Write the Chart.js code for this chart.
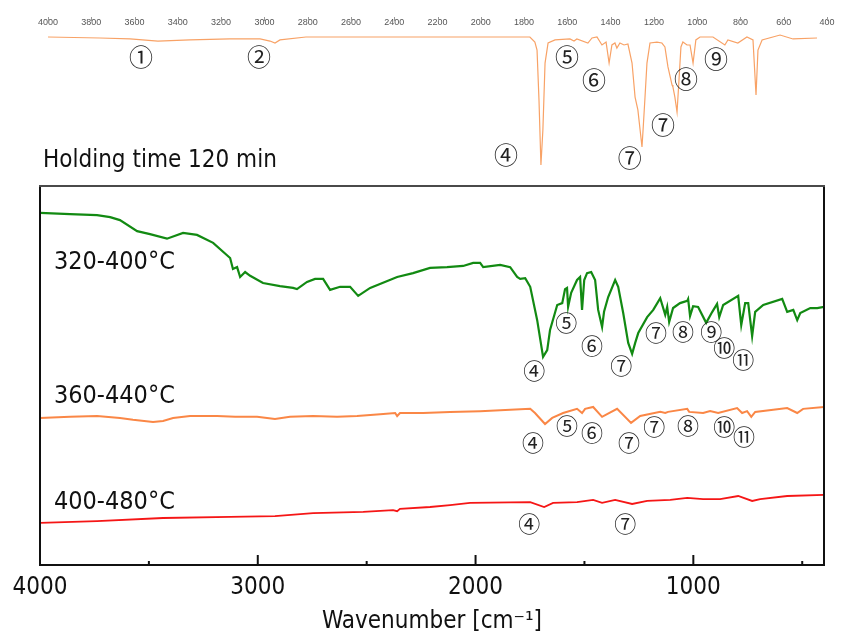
<!DOCTYPE html>
<html lang="en">
<head>
<meta charset="UTF-8">
<title>FT-IR spectra, holding time 120 min</title>
<script src="https://cdn.jsdelivr.net/npm/chart.js"></script>
<style>
  body { margin: 0; background: #fff; }
  #wrap { position: relative; width: 846px; height: 637px; }
  canvas { position: absolute; left: 0; }
  #refChart { top: 0; }
  #mainChart { top: 180px; }
</style>
</head>
<body>
<div id="wrap">
  <canvas id="refChart" width="846" height="180"></canvas>
  <canvas id="mainChart" width="846" height="457"></canvas>
</div>
<script>
// tick values
const refTicks = [4000, 3800, 3600, 3400, 3200, 3000, 2800, 2600, 2400, 2200, 2000, 1800, 1600, 1400, 1200, 1000, 800, 600, 400];
const mainTicks = [4000, 3500, 3000, 2500, 2000, 1500, 1000, 500];
const mainTickLabels = ['4000', '', '3000', '', '2000', '', '1000', ''];

// reference spectrum (top strip), transmittance in arbitrary %
const refWavenumber = [4000, 3760, 3621, 3492, 3344, 3159, 3020, 2974, 2951, 2928, 2808, 2373, 2004, 1773, 1750, 1740, 1731, 1722, 1713, 1703, 1689, 1657, 1588, 1569, 1556, 1505, 1486, 1463, 1440, 1421, 1407, 1394, 1380, 1371, 1357, 1338, 1320, 1301, 1287, 1274, 1255, 1250, 1241, 1232, 1218, 1186, 1163, 1149, 1135, 1116, 1112, 1103, 1093, 1084, 1075, 1066, 1047, 1033, 1019, 1006, 987, 927, 872, 858, 812, 770, 742, 728, 719, 700, 617, 557, 446];
const refTransmittance = [95.0, 94.3, 93.6, 92.1, 92.9, 93.6, 93.6, 92.1, 90.7, 92.9, 95.0, 95.0, 95.0, 95.0, 91.4, 85.7, 50.0, 3.6, 28.6, 76.4, 90.7, 92.9, 93.6, 92.1, 93.6, 90.7, 94.3, 95.0, 89.3, 91.4, 76.4, 89.3, 90.7, 87.1, 90.7, 89.3, 90.0, 76.4, 52.1, 42.9, 16.4, 28.6, 52.1, 76.4, 90.7, 91.4, 90.7, 87.9, 73.6, 60.7, 59.3, 52.1, 41.4, 64.3, 87.9, 91.4, 89.3, 89.3, 76.4, 92.9, 95.0, 95.0, 89.3, 92.9, 90.7, 95.0, 92.9, 53.6, 85.7, 92.9, 96.4, 93.6, 94.3];

// 320-400 °C
const wavenumber320 = [4000, 3862, 3738, 3678, 3633, 3554, 3495, 3417, 3343, 3279, 3205, 3127, 3114, 3095, 3081, 3058, 3035, 2976, 2898, 2838, 2820, 2774, 2737, 2700, 2668, 2622, 2576, 2539, 2484, 2360, 2287, 2209, 2131, 2057, 2011, 1979, 1965, 1887, 1841, 1809, 1795, 1772, 1749, 1717, 1690, 1671, 1658, 1625, 1602, 1589, 1580, 1575, 1561, 1534, 1520, 1511, 1501, 1488, 1469, 1451, 1437, 1419, 1410, 1391, 1359, 1345, 1322, 1299, 1281, 1267, 1253, 1212, 1184, 1152, 1129, 1120, 1111, 1093, 1061, 1028, 1024, 1015, 1001, 978, 941, 913, 891, 881, 863, 794, 780, 762, 748, 730, 716, 679, 592, 569, 541, 523, 509, 463, 431, 400];
const signal320 = [92.9, 92.6, 92.3, 91.8, 91.0, 88.1, 87.3, 86.1, 87.6, 87.1, 85.0, 81.0, 78.1, 78.6, 76.0, 77.3, 76.3, 74.4, 73.6, 73.1, 72.8, 74.7, 75.5, 75.5, 72.6, 73.4, 73.4, 71.0, 73.1, 76.0, 77.0, 78.4, 78.6, 78.9, 79.7, 79.7, 78.6, 79.2, 78.6, 76.0, 75.5, 75.7, 73.4, 64.6, 54.9, 56.7, 62.0, 68.6, 69.1, 72.8, 73.1, 68.1, 71.8, 75.2, 76.0, 67.3, 75.2, 77.0, 77.3, 75.2, 67.3, 62.8, 66.8, 70.7, 75.2, 73.4, 66.5, 58.6, 55.7, 58.6, 61.2, 65.4, 67.3, 70.4, 66.0, 68.1, 64.1, 67.8, 69.1, 69.7, 70.2, 65.7, 68.3, 68.1, 63.9, 66.8, 68.9, 65.4, 68.6, 71.0, 63.3, 69.1, 69.1, 60.4, 66.8, 68.6, 70.2, 66.8, 67.3, 64.6, 66.5, 67.8, 67.8, 68.1];

// 360-440 °C
const wavenumber360 = [4000, 3862, 3738, 3633, 3573, 3481, 3435, 3389, 3311, 3187, 3104, 3003, 2921, 2852, 2746, 2636, 2544, 2438, 2369, 2360, 2347, 2241, 2117, 1979, 1749, 1727, 1681, 1648, 1598, 1534, 1511, 1497, 1460, 1419, 1396, 1350, 1286, 1244, 1152, 1129, 1116, 1028, 1019, 955, 923, 886, 799, 776, 753, 734, 716, 569, 523, 496, 400];
const signal360 = [38.8, 39.1, 39.3, 38.8, 38.3, 37.7, 38.0, 38.8, 39.3, 39.3, 39.1, 39.1, 38.5, 39.1, 39.3, 39.1, 39.3, 39.8, 40.1, 39.3, 40.1, 40.1, 40.4, 40.6, 41.2, 40.1, 37.2, 38.8, 40.1, 41.2, 40.1, 41.2, 41.7, 39.1, 39.8, 41.2, 37.5, 39.3, 40.4, 40.1, 40.4, 41.2, 40.4, 40.1, 40.6, 40.1, 41.4, 40.1, 40.6, 39.1, 40.4, 41.4, 40.1, 41.2, 41.7];

// 400-480 °C
const wavenumber400 = [4000, 3738, 3435, 3127, 2921, 2746, 2516, 2379, 2360, 2347, 2209, 2117, 2025, 1749, 1685, 1644, 1534, 1460, 1419, 1359, 1281, 1212, 1106, 1028, 955, 877, 794, 730, 693, 569, 400];
const signal400 = [11.1, 11.6, 12.4, 12.7, 12.9, 13.7, 14.0, 14.5, 14.2, 14.8, 15.3, 15.8, 16.4, 16.6, 15.3, 16.4, 16.6, 17.2, 16.4, 17.2, 16.1, 16.9, 17.2, 17.7, 17.4, 17.4, 18.2, 16.9, 17.4, 18.2, 18.5];

// band markers: [label, wavenumber, level]
const refBands = [['①', 3570, 80.7], ['②', 3025, 80.7], ['④', 1884, 10.7], ['⑤', 1602, 80.7], ['⑥', 1477, 64.3], ['⑦', 1311, 8.6], ['⑦', 1158, 32.1], ['⑧', 1052, 65.0], ['⑨', 913, 79.3]];
const bands320 = [['④', 1731, 51.2], ['⑤', 1584, 63.9], ['⑥', 1465, 57.8], ['⑦', 1331, 52.5], ['⑦', 1171, 61.2], ['⑧', 1047, 61.7], ['⑨', 918, 61.7], ['⑩', 858, 57.3], ['⑪', 771, 54.1]];
const bands360 = [['④', 1736, 32.2], ['⑤', 1580, 36.9], ['⑥', 1465, 34.8], ['⑦', 1295, 32.2], ['⑦', 1180, 36.4], ['⑧', 1024, 36.9], ['⑩', 858, 36.4], ['⑪', 767, 33.8]];
const bands400 = [['④', 1754, 10.8], ['⑦', 1313, 10.8]];
const seriesNames = [['320-400°C', 3936, 78.1], ['360-440°C', 3936, 42.7], ['400-480°C', 3936, 14.8]];

const FONT = "'DejaVu Sans Condensed', 'DejaVu Sans', sans-serif";
const CIRCLE_FONT = "'Noto Sans CJK JP', 'DejaVu Sans', sans-serif";

const pts = (xs, ys) => xs.map((x, i) => ({ x: x, y: ys[i] }));

function drawBands(chart, list, size) {
  const ctx = chart.ctx, xs = chart.scales.x, ys = chart.scales.y;
  ctx.font = size + 'px ' + CIRCLE_FONT;
  ctx.fillStyle = '#222';
  ctx.textAlign = 'center';
  ctx.textBaseline = 'middle';
  list.forEach(b => ctx.fillText(b[0], xs.getPixelForValue(b[1]), ys.getPixelForValue(b[2])));
}

const refDecor = {
  id: 'refDecor',
  afterDraw(chart) {
    const ctx = chart.ctx, xs = chart.scales.x;
    ctx.save();
    // little tick marks that run through the tiny labels
    ctx.strokeStyle = '#999';
    ctx.lineWidth = 1;
    xs.ticks.forEach(t => {
      const px = Math.round(xs.getPixelForValue(t.value)) + 0.5;
      ctx.beginPath();
      ctx.moveTo(px, 17);
      ctx.lineTo(px, 21);
      ctx.stroke();
    });
    drawBands(chart, refBands, 24);
    ctx.font = '24px ' + FONT;
    ctx.fillStyle = '#111';
    ctx.textAlign = 'left';
    ctx.textBaseline = 'alphabetic';
    ctx.fillText('Holding time 120 min', 43, 167);
    ctx.restore();
  }
};

const mainDecor = {
  id: 'mainDecor',
  afterDraw(chart) {
    const ctx = chart.ctx, a = chart.chartArea, xs = chart.scales.x, ys = chart.scales.y;
    ctx.save();
    ctx.lineWidth = 2;
    ctx.strokeStyle = '#111';
    ctx.beginPath();
    ctx.moveTo(a.left, a.top); ctx.lineTo(a.left, a.bottom); ctx.lineTo(a.right, a.bottom); ctx.lineTo(a.right, a.top);
    ctx.stroke();
    ctx.strokeStyle = '#4a4a4a';
    ctx.beginPath();
    ctx.moveTo(a.left - 1, a.top); ctx.lineTo(a.right + 1, a.top);
    ctx.stroke();
    // inward ticks
    ctx.strokeStyle = '#111';
    xs.ticks.forEach(t => {
      const px = xs.getPixelForValue(t.value);
      const len = t.value % 1000 === 0 ? 10 : 4;
      ctx.beginPath();
      ctx.moveTo(px, a.bottom);
      ctx.lineTo(px, a.bottom - len);
      ctx.stroke();
    });
    drawBands(chart, bands320, 22);
    drawBands(chart, bands360, 22);
    drawBands(chart, bands400, 22);
    ctx.font = '25px ' + FONT;
    ctx.fillStyle = '#111';
    ctx.textAlign = 'left';
    ctx.textBaseline = 'alphabetic';
    seriesNames.forEach(s => ctx.fillText(s[0], xs.getPixelForValue(s[1]), ys.getPixelForValue(s[2])));
    ctx.restore();
  }
};

new Chart(document.getElementById('refChart'), {
  type: 'line',
  data: {
    datasets: [{
      data: pts(refWavenumber, refTransmittance),
      borderColor: '#f8a266',
      borderWidth: 1.2,
      pointRadius: 0,
      fill: false
    }]
  },
  options: {
    responsive: false,
    animation: false,
    layout: { padding: { left: 48, right: 19, top: 16, bottom: 10 } },
    plugins: { legend: { display: false }, tooltip: { enabled: false } },
    scales: {
      x: {
        type: 'linear', position: 'top', reverse: true, min: 400, max: 4000,
        grid: { display: false, drawTicks: false },
        border: { display: false },
        afterBuildTicks: s => { s.ticks = refTicks.map(v => ({ value: v })); },
        ticks: { autoSkip: false, maxRotation: 0, padding: 2, color: '#555',
                 font: { family: "'Liberation Sans', sans-serif", size: 9 },
                 callback: v => String(v) },
        afterFit: s => { s.height = 14; }
      },
      y: { display: false, min: 0, max: 100 }
    }
  },
  plugins: [refDecor]
});

new Chart(document.getElementById('mainChart'), {
  type: 'line',
  data: {
    datasets: [
      { label: '320-400°C', data: pts(wavenumber320, signal320), borderColor: '#128a12', borderWidth: 2.2, pointRadius: 0, fill: false },
      { label: '360-440°C', data: pts(wavenumber360, signal360), borderColor: '#fa8746', borderWidth: 2, pointRadius: 0, fill: false },
      { label: '400-480°C', data: pts(wavenumber400, signal400), borderColor: '#f51616', borderWidth: 1.8, pointRadius: 0, fill: false }
    ]
  },
  options: {
    responsive: false,
    animation: false,
    layout: { padding: { left: 40, right: 22, top: 6, bottom: 0 } },
    plugins: { legend: { display: false }, tooltip: { enabled: false } },
    scales: {
      x: {
        type: 'linear', reverse: true, min: 400, max: 4000,
        grid: { display: false, drawTicks: false },
        border: { display: false },
        afterBuildTicks: s => { s.ticks = mainTicks.map(v => ({ value: v })); },
        ticks: {
          autoSkip: false, maxRotation: 0, padding: 8,
          color: '#111', font: { family: FONT, size: 24 },
          callback: (v, i) => mainTickLabels[i]
        },
        title: { display: true, text: 'Wavenumber [cm⁻¹]', color: '#111',
                 font: { family: FONT, size: 24 }, padding: { top: 0, bottom: 1 } },
        afterFit: s => { s.height = 72; }
      },
      y: { display: false, min: 0, max: 100 }
    }
  },
  plugins: [mainDecor]
});
</script>
</body>
</html>
